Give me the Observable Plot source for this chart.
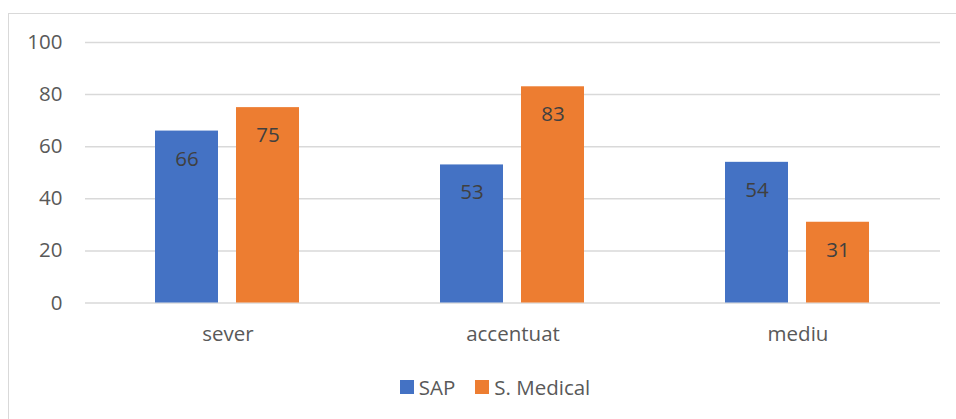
<!DOCTYPE html>
<html>
<head>
<meta charset="utf-8">
<script src="https://cdn.jsdelivr.net/npm/d3@7"></script>
<script src="https://cdn.jsdelivr.net/npm/@observablehq/plot@0.6"></script>
<style>
  html, body { margin: 0; padding: 0; background: #fff; overflow: hidden; }
  body { width: 956px; height: 419px; position: relative; font-family: "Open Sans", sans-serif; }
  #frame { position: absolute; left: 8px; top: 13px; width: 1000px; height: 500px; border: 1.5px solid #d9d9d9; box-sizing: border-box; }
  #chart { position: absolute; left: 0; top: 0; }
  #legend { position: absolute; left: 0; top: 373px; width: 956px; display: flex; justify-content: center; gap: 20px; font-size: 20.5px; color: #595959; padding-left: 34px; box-sizing: border-box; }
  #legend span.item { display: flex; align-items: center; gap: 5px; }
  #legend span.sw { width: 14px; height: 14px; display: inline-block; }
</style>
</head>
<body>
<div id="frame"></div>
<div id="chart"></div>
<div id="legend"></div>
<script>
const categories = ["sever", "accentuat", "mediu"];
const series = ["SAP", "S. Medical"];
const sapValues = [66, 53, 54];
const medicalValues = [75, 83, 31];
const yTicks = [0, 20, 40, 60, 80, 100];
const colors = ["#4472C4", "#ED7D31"];

const data = [];
categories.forEach((c, i) => {
  data.push({category: c, series: "SAP", value: sapValues[i]});
  data.push({category: c, series: "S. Medical", value: medicalValues[i]});
});

const chart = Plot.plot({
  width: 956,
  height: 360,
  marginLeft: 84,
  marginRight: 16,
  marginTop: 42,
  marginBottom: 57.5,
  style: {fontFamily: "Open Sans, sans-serif", fontSize: "20.5px", color: "#595959", background: "transparent"},
  fx: {domain: categories, padding: 0, label: null},
  x: {domain: series, paddingInner: 0.2195, paddingOuter: 0.85, axis: null},
  y: {domain: [0, 100], label: null},
  color: {domain: series, range: colors},
  marks: [
    Plot.ruleY(yTicks, {stroke: "#d9d9d9", strokeWidth: 1.5}),
    Plot.axisY(yTicks, {tickSize: 0, tickPadding: 23, fill: "#595959", fontSize: 20.5, label: null}),
    Plot.axisFx({anchor: "bottom", tickSize: 0, tickPadding: 23, fill: "#595959", fontSize: 20.5, label: null}),
    Plot.barY(data, {fx: "category", x: "series", y: "value", fill: "series"}),
    Plot.text(data, {fx: "category", x: "series", y: "value", text: d => String(d.value), dy: 28, fill: "#404040", fontSize: 20.5})
  ]
});
document.getElementById("chart").appendChild(chart);

const legend = document.getElementById("legend");
series.forEach((s, i) => {
  const item = document.createElement("span");
  item.className = "item";
  const sw = document.createElement("span");
  sw.className = "sw";
  sw.style.background = colors[i];
  const t = document.createElement("span");
  t.textContent = s;
  item.appendChild(sw);
  item.appendChild(t);
  legend.appendChild(item);
});
</script>
</body>
</html>
